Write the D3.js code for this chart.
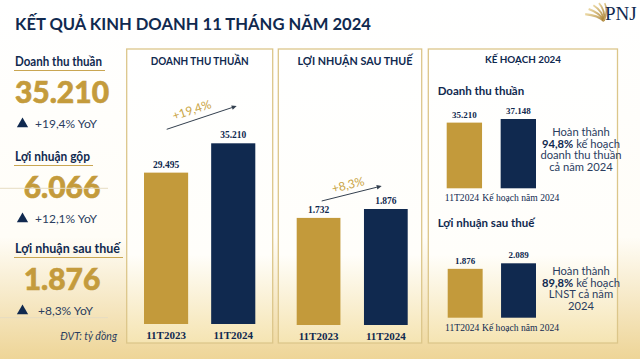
<!DOCTYPE html>
<html><head><meta charset="utf-8">
<script src="https://cdn.jsdelivr.net/npm/d3@7"></script>
<style>html,body{margin:0;padding:0;background:#fff}svg{display:block}</style>
</head><body>
<script>
// ---- data ----
const title = "KẾT QUẢ KINH DOANH 11 THÁNG NĂM 2024";
const kpiLabels = ["Doanh thu thuần", "Lợi nhuận gộp", "Lợi nhuận sau thuế"];
const kpiValues = ["35.210", "6.066", "1.876"];
const kpiGrowth = ["+19,4% YoY", "+12,1% YoY", "+8,3% YoY"];
const unitNote = "ĐVT: tỷ đồng";

const periods = ["11T2023", "11T2024"];
const revenue = [29495, 35210];
const netProfit = [1732, 1876];
const revenueGrowth = "+19,4%";
const profitGrowth = "+8,3%";

const planCats = ["11T2024", "Kế hoạch năm 2024"];
const planRevenue = [35210, 37148];
const planProfit = [1876, 2089];
const planRevenueNote = ["Hoàn thành", "94,8%| kế hoạch", "doanh thu thuần", "cả năm 2024"];
const planProfitNote = ["Hoàn thành", "89,8%| kế hoạch", "LNST cả năm", "2024"];

const fmt = v => d3.format(",")(v).replace(/,/g, ".");

// ---- styles ----
const W = 640, H = 359;
const NAVY = "#10294f", GOLD = "#c39a3b", GOLDTXT = "#c49b3c", BORDER = "#dcc68a", TXT = "#2b3d5f";
const SANS = "Lato, 'Open Sans', sans-serif";
const SERIF = "'Liberation Serif', 'DejaVu Serif', serif";

const svg = d3.select("body").append("svg").attr("width", W).attr("height", H);
const defs = svg.append("defs");
const g1 = defs.append("linearGradient").attr("id", "bg").attr("x1", 0).attr("y1", 0).attr("x2", 0).attr("y2", 1);
g1.append("stop").attr("offset", "0").attr("stop-color", "#ffffff");
g1.append("stop").attr("offset", "0.66").attr("stop-color", "#fffdf7");
g1.append("stop").attr("offset", "1").attr("stop-color", "#eed597");
const g2 = defs.append("linearGradient").attr("id", "pn").attr("x1", 0).attr("y1", 0).attr("x2", 0).attr("y2", 1);
g2.append("stop").attr("offset", "0").attr("stop-color", "#ffffff");
g2.append("stop").attr("offset", "0.7").attr("stop-color", "#fffefa");
g2.append("stop").attr("offset", "1").attr("stop-color", "#f5e4b2");
const g3 = defs.append("linearGradient").attr("id", "fan").attr("x1", 0).attr("y1", 0).attr("x2", 1).attr("y2", 1);
g3.append("stop").attr("offset", "0").attr("stop-color", "#e9d49a");
g3.append("stop").attr("offset", "1").attr("stop-color", "#a67c2c");

svg.append("rect").attr("width", W).attr("height", H).attr("fill", "url(#bg)");

// title
svg.append("text").attr("x", 15).attr("y", 30).text(title)
  .attr("font-family", SANS).attr("font-weight", 700).attr("font-size", 17.2)
  .attr("fill", NAVY).attr("textLength", 356).attr("lengthAdjust", "spacingAndGlyphs");

// logo
const logo = svg.append("g").attr("transform", "translate(604,21)");
[-20, -38, -56, -74, -92].forEach((a, i) => {
  const r = 20 - i * 0.5, rad = a * Math.PI / 180;
  const x = r * Math.cos(rad) * -1, y = r * Math.sin(rad);
  logo.append("path")
    .attr("d", `M0,0 Q${x * 0.5 + 4},${y * 0.5 - 2} ${x},${y}`)
    .attr("fill", "none").attr("stroke", "url(#fan)").attr("stroke-width", 2.4 - i * 0.2).attr("opacity", 0.9);
});
svg.append("text").attr("x", 605).attr("y", 20).text("PNJ")
  .attr("font-family", SERIF).attr("font-size", 19).attr("fill", NAVY);

// ---- left KPI column ----
const kpiY = [66, 161, 253];
const kpiW = [87, 75, 105];
const tri = d3.symbol().type(d3.symbolTriangle).size(55);
kpiLabels.forEach((lab, i) => {
  const y0 = kpiY[i];
  svg.append("text").attr("x", 15).attr("y", y0).text(lab)
    .attr("font-family", SANS).attr("font-weight", 700).attr("font-size", 12.5).attr("fill", NAVY)
    .attr("textLength", kpiW[i]).attr("lengthAdjust", "spacingAndGlyphs");
  svg.append("line").attr("x1", 14).attr("x2", 15 + kpiW[i] + 3).attr("y1", y0 + 4.5).attr("y2", y0 + 4.5)
    .attr("stroke", "#c9a652").attr("stroke-width", 1);
  svg.append("text").attr("x", 62).attr("y", y0 + 37).attr("text-anchor", "middle").text(kpiValues[i])
    .attr("font-family", SANS).attr("font-weight", 900).attr("font-size", 30).attr("fill", GOLDTXT)
    .attr("stroke", GOLDTXT).attr("stroke-width", 0.6);
  svg.append("path").attr("d", tri).attr("transform", `translate(22.5,${y0 + 58})`).attr("fill", NAVY);
  svg.append("text").attr("x", i === 2 ? 38 : 35).attr("y", y0 + 62).text(kpiGrowth[i])
    .attr("font-family", SANS).attr("font-size", 12).attr("fill", TXT);
});
svg.append("text").attr("x", 117).attr("y", 340).attr("text-anchor", "end").text(unitNote)
  .attr("font-family", SANS).attr("font-style", "italic").attr("font-size", 10.5).attr("fill", TXT);

// ---- panels ----
const panels = [
  {x0: 126.7, x1: 272.7, head: "DOANH THU THUẦN", hx: 199.7, hy: 65, hw: 98, fs: 10.5},
  {x0: 278.3, x1: 421.7, head: "LỢI NHUẬN SAU THUẾ", hx: 355, hy: 65, hw: 115, fs: 10.5},
  {x0: 428.3, x1: 617.5, head: "KẾ HOẠCH 2024", hx: 523, hy: 63, hw: 76, fs: 10}
];
panels.forEach(p => {
  svg.append("rect").attr("x", p.x0).attr("y", 49).attr("width", p.x1 - p.x0).attr("height", 294)
    .attr("fill", "url(#pn)").attr("stroke", BORDER).attr("stroke-width", 1.3);
  svg.append("text").attr("x", p.hx).attr("y", p.hy).attr("text-anchor", "middle").text(p.head)
    .attr("font-family", SANS).attr("font-weight", 700).attr("font-size", p.fs).attr("fill", NAVY)
    .attr("textLength", p.hw).attr("lengthAdjust", "spacingAndGlyphs");
});

function barChart(cfg) {
  const x = d3.scaleBand().domain(cfg.cats).range(cfg.xr).paddingInner(cfg.pad).paddingOuter(0);
  const y = d3.scaleLinear().domain([0, d3.max(cfg.vals)]).range([cfg.base, cfg.top]);
  const g = svg.append("g");
  g.selectAll("rect").data(cfg.vals).join("rect")
    .attr("x", (d, i) => x(cfg.cats[i])).attr("width", x.bandwidth())
    .attr("y", d => y(d)).attr("height", d => cfg.base - y(d))
    .attr("fill", (d, i) => i === 0 ? GOLD : NAVY);
  g.selectAll("text.v").data(cfg.vals).join("text").attr("class", "v")
    .attr("x", (d, i) => x(cfg.cats[i]) + x.bandwidth() / 2).attr("y", d => y(d) - 5)
    .attr("text-anchor", "middle").text(d => fmt(d))
    .attr("font-family", SERIF).attr("font-weight", 700).attr("font-size", cfg.vfs).attr("fill", NAVY);
  const ax = g.append("g").attr("transform", `translate(0,${cfg.base})`)
    .call(d3.axisBottom(x).tickSize(0).tickPadding(cfg.lpad));
  ax.select(".domain").attr("stroke", cfg.line ? "#e6dcc2" : "none")
    .attr("d", cfg.line ? `M${cfg.line[0]},0H${cfg.line[1]}` : null);
  ax.selectAll("text").attr("font-family", SERIF).attr("font-weight", cfg.lw).attr("font-size", cfg.lfs)
    .attr("fill", NAVY).attr("dy", 0).attr("dominant-baseline", "auto");
  if (cfg.lshift) ax.selectAll("text").attr("dx", (d, i) => cfg.lshift[i]);
  return {x, y};
}

function growthArrow(x1, y1, x2, y2, label, tx, ty) {
  const ang = Math.atan2(y2 - y1, x2 - x1);
  svg.append("line").attr("x1", x1).attr("y1", y1).attr("x2", x2 - 5 * Math.cos(ang)).attr("y2", y2 - 5 * Math.sin(ang))
    .attr("stroke", "#34404f").attr("stroke-width", 1);
  const a = 5, s = 2.3;
  svg.append("path").attr("d", `M${x2},${y2} L${x2 - a * Math.cos(ang) + s * Math.sin(ang)},${y2 - a * Math.sin(ang) - s * Math.cos(ang)} L${x2 - a * Math.cos(ang) - s * Math.sin(ang)},${y2 - a * Math.sin(ang) + s * Math.cos(ang)}Z`)
    .attr("fill", "#34404f");
  svg.append("text").attr("transform", `translate(${tx},${ty}) rotate(${ang * 180 / Math.PI})`)
    .attr("text-anchor", "middle").text(label)
    .attr("font-family", SANS).attr("font-size", 12).attr("fill", "#c9a443");
}

// panel 1
barChart({cats: periods, vals: revenue, xr: [144, 255.3], pad: 0.343, base: 324, top: 143.3,
  vfs: 9.5, lfs: 11, lw: 700, lpad: 15});
growthArrow(166.7, 129.3, 236.7, 106, revenueGrowth, 193, 114);

// panel 2
barChart({cats: periods, vals: netProfit, xr: [296.7, 407.7], pad: 0.35, base: 325, top: 209,
  vfs: 9.5, lfs: 11, lw: 700, lpad: 15});
growthArrow(321.7, 201, 381.7, 186, profitGrowth, 349, 189);

// panel 3
svg.append("text").attr("x", 437.7).attr("y", 95).text(kpiLabels[0])
  .attr("font-family", SANS).attr("font-weight", 700).attr("font-size", 11.5).attr("fill", NAVY);
barChart({cats: planCats, vals: planRevenue, xr: [446.7, 536], pad: 0.345, base: 188.3, top: 119,
  vfs: 9, lfs: 9.6, lw: 400, lpad: 12.5, line: [-10, 108], lshift: [-2.5, 2.5]});
svg.append("text").attr("x", 437.7).attr("y", 226.7).text(kpiLabels[2])
  .attr("font-family", SANS).attr("font-weight", 700).attr("font-size", 11.5).attr("fill", NAVY);
barChart({cats: planCats, vals: planProfit, xr: [447.7, 536], pad: 0.345, base: 317.7, top: 263.3,
  vfs: 9, lfs: 9.6, lw: 400, lpad: 13.5, line: [-10, 108], lshift: [-3, 2]});

function note(lines, y0) {
  lines.forEach((ln, i) => {
    const t = svg.append("text").attr("x", 581).attr("y", y0 + i * 11.6).attr("text-anchor", "middle")
      .attr("font-family", SANS).attr("font-size", 11.2).attr("fill", TXT);
    const parts = ln.split("|");
    if (parts.length > 1) {
      t.append("tspan").attr("font-weight", 700).attr("fill", NAVY).text(parts[0]);
      t.append("tspan").text(parts[1]);
    } else t.text(ln);
  });
}
note(planRevenueNote, 136);
note(planProfitNote, 275);
</script>
</body></html>
